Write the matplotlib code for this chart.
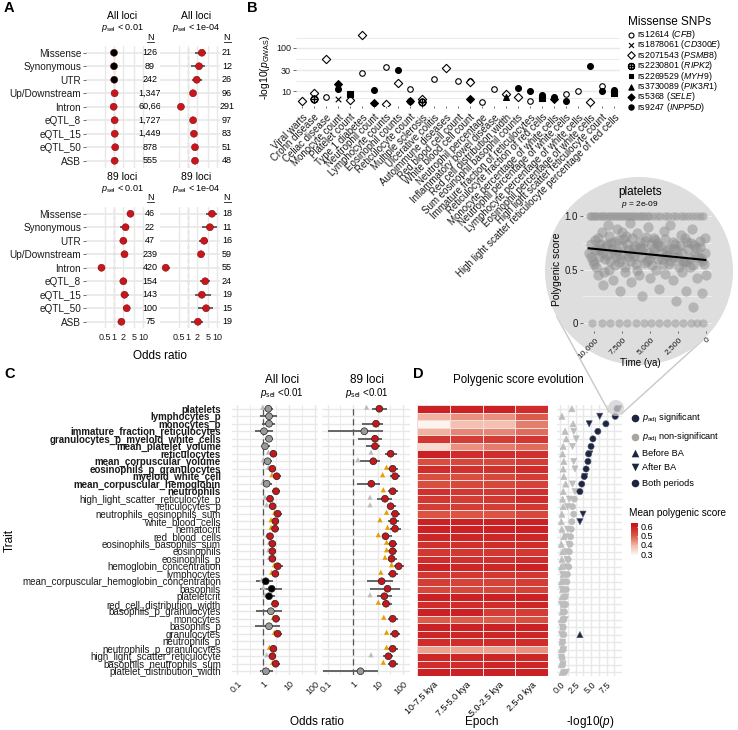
import numpy as np
import matplotlib
matplotlib.use('Agg')
import matplotlib.pyplot as plt
from matplotlib.colors import LinearSegmentedColormap
from matplotlib.patches import Circle
from matplotlib.ticker import NullLocator

plt.rcParams['font.family'] = ['Liberation Sans', 'DejaVu Sans']
plt.rcParams['mathtext.fontset'] = 'custom'
plt.rcParams['mathtext.rm'] = 'Liberation Sans'
plt.rcParams['mathtext.it'] = 'Liberation Sans:italic'
plt.rcParams['mathtext.bf'] = 'Liberation Sans:bold'

nan = np.nan

# ---------------- panel A data ----------------
a_categories = ['Missense', 'Synonymous', 'UTR', 'Up/Downstream', 'Intron',
                'eQTL_8', 'eQTL_15', 'eQTL_50', 'ASB']
a_ticks = [0.5, 1, 2, 5, 10]
a_tick_labels = ['0.5', '1', '2', '5', '10']

a_all01_or = [1.0, 1.0, 1.02, 1.05, 0.97, 1.05, 1.06, 1.1, 1.05]
a_all01_lo = [0.92, 0.9, 0.95, 1.0, 0.95, 1.0, 1.0, 1.02, 0.98]
a_all01_hi = [1.1, 1.12, 1.1, 1.1, 1.0, 1.1, 1.12, 1.2, 1.12]
a_all01_sig = [0, 0, 0, 1, 1, 1, 1, 1, 1]
a_all01_n = ['126', '89', '242', '1,347', '60,66', '1,727', '1,449', '878', '555']

a_all04_or = [3.0, 2.4, 2.0, 1.49, 0.57, 1.5, 1.6, 1.74, 1.74]
a_all04_lo = [1.75, 1.3, 1.4, 1.2, 0.52, 1.3, 1.35, 1.4, 1.4]
a_all04_hi = [4.3, 3.9, 3.0, 1.9, 0.62, 1.75, 1.85, 2.1, 2.1]
a_all04_sig = [1, 1, 1, 1, 1, 1, 1, 1, 1]
a_all04_n = ['21', '12', '26', '96', '291', '97', '83', '51', '48']

a_89_01_or = [3.7, 2.5, 2.1, 2.3, 0.37, 2.1, 2.3, 2.75, 1.8]
a_89_01_lo = [2.7, 1.55, 1.55, 1.8, 0.34, 1.7, 1.8, 2.1, 1.4]
a_89_01_hi = [4.7, 3.4, 2.9, 2.9, 0.41, 2.7, 3.2, 3.7, 2.3]
a_89_01_sig = [1, 1, 1, 1, 1, 1, 1, 1, 1]
a_89_01_n = ['46', '22', '47', '239', '420', '154', '143', '100', '75']

a_89_04_or = [6.7, 5.7, 3.6, 2.8, 0.17, 3.9, 3.0, 4.2, 2.2]
a_89_04_lo = [4.2, 3.0, 2.4, 2.2, 0.14, 2.6, 1.7, 2.2, 1.27]
a_89_04_hi = [10, 10, 4.9, 3.9, 0.24, 5.7, 6.2, 7.3, 3.3]
a_89_04_sig = [1, 1, 1, 1, 1, 1, 1, 1, 1]
a_89_04_n = ['18', '11', '16', '59', '55', '24', '19', '15', '19']

# ---------------- panel B data ----------------
b_traits = ['Viral warts', 'Crohn disease', 'Celiac disease', 'Monocyte count',
            'Platelet count', 'Type 1 diabetes', 'Neutrophil count',
            'Lymphocyte counts', 'Eosinophil counts', 'Reticulocyte count',
            'Multiple sclerosis', 'Ulcerative colitis', 'Autoimmune diseases',
            'Red blood cell count', 'White blood cell count', 'Neutrophil percentage',
            'Inflammatory bowel disease', 'Red cell distribution width',
            'Sum eosinophil basophil counts', 'Immature fraction of reticulocytes',
            'Reticulocyte fraction of red cells', 'Monocyte percentage of white cells',
            'Neutrophil percentage of white cells', 'Lymphocyte percentage of white cells',
            'Eosinophil percentage of white cells', 'High light scatter reticulocyte count',
            'High light scatter reticulocyte percentage of red cells']
b_snps = ['rs12614', 'rs1878061', 'rs2071543', 'rs2230801',
          'rs2269529', 'rs3730089', 'rs5368', 'rs9247']
b_genes = ['CFB', 'CD300E', 'PSMB8', 'RIPK2', 'MYH9', 'PIK3R1', 'SELE', 'INPP5D']
b_point_trait = [0, 1, 1, 2, 2, 3, 3, 3, 4, 4, 5, 5, 6, 6, 7, 7, 8, 8, 9, 9, 9,
                 10, 10, 11, 12, 13, 14, 14, 14, 15, 16, 17, 17, 18, 18, 19, 19,
                 20, 20, 21, 21, 22, 22, 23, 24, 24, 25, 25, 26, 26]
b_point_snp = ['PSMB8', 'PSMB8', 'RIPK2', 'PSMB8', 'CFB', 'SELE', 'INPP5D', 'CD300E',
               'MYH9', 'PSMB8', 'PSMB8', 'CFB', 'INPP5D', 'SELE', 'CFB', 'PSMB8',
               'INPP5D', 'PSMB8', 'CFB', 'INPP5D', 'SELE', 'PSMB8', 'RIPK2', 'CFB',
               'PSMB8', 'CFB', 'CFB', 'PSMB8', 'SELE', 'CFB', 'CFB', 'PSMB8', 'PIK3R1',
               'INPP5D', 'PSMB8', 'INPP5D', 'CFB', 'INPP5D', 'MYH9', 'INPP5D', 'SELE',
               'CFB', 'INPP5D', 'CFB', 'INPP5D', 'PSMB8', 'CFB', 'INPP5D', 'INPP5D', 'MYH9']
b_point_value = [5.8, 9.0, 6.5, 55, 7.3, 14.5, 11, 6.5, 8.5, 6.3, 200, 26, 10.5, 5.3,
                 36, 5.0, 31, 15, 11, 5.8, 5.8, 6.5, 5.5, 19, 34, 17, 17, 16.5, 6.7,
                 5.7, 11, 8.5, 7.2, 11.8, 7.3, 10, 5.8, 8, 7, 7.2, 6.5, 8.5, 5.8, 10,
                 38, 5.5, 13, 10, 10.5, 9]

# ---------------- panel C data ----------------
c_traits = ['platelets', 'lymphocytes_p', 'monocytes_p', 'immature_fraction_reticulocytes',
            'granulocytes_p_myeloid_white_cells', 'mean_platelet_volume', 'reticulocytes',
            'mean_corpuscular_volume', 'eosinophils_p_granulocytes', 'myeloid_white_cell',
            'mean_corpuscular_hemoglobin', 'neutrophils', 'high_light_scatter_reticulocyte_p',
            'reticulocytes_p', 'neutrophils_eosinophils_sum', 'white_blood_cells',
            'hematocrit', 'red_blood_cells', 'eosinophils_basophils_sum', 'eosinophils',
            'eosinophils_p', 'hemoglobin_concentration', 'lymphocytes',
            'mean_corpuscular_hemoglobin_concentration', 'basophils', 'plateletcrit',
            'red_cell_distribution_width', 'basophils_p_granulocytes', 'monocytes',
            'basophils_p', 'granulocytes', 'neutrophils_p', 'neutrophils_p_granulocytes',
            'high_light_scatter_reticulocyte', 'basophils_neutrophils_sum',
            'platelet_distribution_width']
c_bold = [1] * 12 + [0] * 24
c_ticks = [0.1, 1, 10, 100]
c_tick_labels = ['0.1', '1', '10', '100']

c_all_or = [1.60, 1.70, 1.70, 1.09, 1.70, 1.19, 2.50, 1.50, 2.28, 3.36, 1.38, 3.16,
            1.86, 2.35, 3.66, 2.98, 2.90, 1.86, 2.28, 2.28, 2.28, 3.66, 2.98, 1.27,
            2.15, 1.70, 2.90, 2.00, 3.16, 1.70, 3.66, nan, 2.50, 2.28, 3.07, 1.30]
c_all_lo = [0.97, 0.77, 0.89, 0.49, 1.19, 0.97, 1.75, 1.09, 1.60, 2.35, 0.97, 2.15,
            1.38, 1.75, 2.50, 2.15, 2.15, 1.38, 1.75, 1.75, 1.75, 2.50, 2.15, 0.54,
            0.77, 1.19, 2.15, 0.54, 2.35, 0.49, 2.50, nan, 1.86, 1.75, 2.15, 0.77]
c_all_hi = [2.50, 3.36, 2.90, 2.50, 2.50, 1.86, 3.56, 2.15, 3.16, 4.78, 2.15, 4.50,
            2.50, 3.16, 5.23, 4.25, 4.12, 2.50, 3.16, 3.16, 3.16, 5.70, 4.25, 2.50,
            5.23, 2.90, 4.25, 5.23, 4.50, 4.50, 5.23, nan, 3.56, 3.16, 4.50, 2.35]
c_all_col = ['g', 'g', 'g', 'g', 'g', 'g', 'r', 'g', 'r', 'r', 'g', 'r',
             'r', 'r', 'r', 'r', 'r', 'r', 'r', 'r', 'r', 'r', 'r', 'k',
             'k', 'k', 'r', 'g', 'r', 'g', 'r', 'r', 'r', 'r', 'r', 'g']
c_all_tri = [0.97, nan, 1.75, nan, nan, nan, 1.60, 1.03, 1.60, 2.20, 0.97, 2.73,
             1.19, 1.38, 2.81, 2.03, 2.03, 1.47, 1.75, 1.65, 1.75, 2.73, 2.15, 0.89,
             1.03, 1.19, 2.50, nan, 2.50, nan, 2.73, nan, 1.75, 1.38, 2.35, 1.03]
c_all_tri_col = ['g', 'g', 'o', 'g', 'g', 'g', 'g', 'g', 'g', 'o', 'g', 'o',
                 'g', 'g', 'o', 'o', 'o', 'g', 'g', 'g', 'g', 'o', 'o', 'g',
                 'g', 'g', 'o', 'g', 'o', 'g', 'o', 'g', 'o', 'g', 'o', 'g']

c_89_or = [11.3, nan, 8.3, 2.84, 7.6, 7.6, 32, 6.5, 38.6, 48, 5.4, 38.6, 19, 32, 48,
           41, 48, 20, 38.6, 38.6, 35, 67, 38.6, 14, 24, 18, 21, nan, 38.6, nan, 48,
           nan, 38.6, 26, 38.6, 2.0]
c_89_lo = [5.6, nan, 2.2, 0.10, 1.63, 3.3, 19, 1.9, 26, 30, 1.4, 26, 8.8, 22, 32,
           26, 30, 14, 26, 26, 24, 44, 26, 3.5, 4.8, 8.8, 14, nan, 26, nan, 30,
           nan, 26, 16, 24, 0.065]
c_89_hi = [22, nan, 16.3, 16.3, 14, 12, 56, 12, 65, 76, 12, 65, 35, 52, 76,
           71, 81, 35, 59, 59, 56, 110, 65, 41, 76, 35, 35, nan, 65, nan, 76,
           nan, 65, 41, 65, 10.3]
c_89_col = ['r', 'r', 'r', 'g', 'r', 'r', 'r', 'r', 'r', 'r', 'r', 'r',
            'r', 'r', 'r', 'r', 'r', 'r', 'r', 'r', 'r', 'r', 'r', 'r',
            'r', 'r', 'r', 'r', 'r', 'r', 'r', 'r', 'r', 'r', 'r', 'g']
c_89_tri = [3.5, nan, 7.6, nan, 7.6, 8.3, 5.25, 1.58, 22, 15.3, nan, 16.3, 4.8, 4.8, 22,
            12, 24, 10.3, 22, 22, 19, 35, 13, nan, nan, 4.8, 10.3, nan, 17, nan, 22,
            nan, 22, 5.25, 16.3, nan]
c_89_tri_col = ['g', 'g', 'o', 'g', 'o', 'o', 'g', 'g', 'o', 'o', 'g', 'o',
                'g', 'g', 'o', 'o', 'o', 'o', 'o', 'o', 'o', 'o', 'o', 'g',
                'g', 'g', 'o', 'g', 'o', 'g', 'o', 'g', 'o', 'g', 'o', 'g']

# ---------------- panel D data ----------------
d_epochs = ['10-7.5 kya', '7.5-5.0 kya', '5.0-2.5 kya', '2.5-0 kya']
d_heat = [
    [0.60, 0.60, 0.60, 0.58], [0.40, 0.44, 0.44, 0.50], [0.30, 0.38, 0.38, 0.46],
    [0.40, 0.45, 0.45, 0.48], [0.56, 0.55, 0.55, 0.56], [0.34, 0.44, 0.46, 0.48],
    [0.60, 0.58, 0.58, 0.57], [0.52, 0.53, 0.53, 0.55], [0.58, 0.57, 0.57, 0.58],
    [0.52, 0.52, 0.53, 0.55], [0.52, 0.53, 0.53, 0.54], [0.57, 0.56, 0.56, 0.57],
    [0.56, 0.55, 0.56, 0.58], [0.55, 0.55, 0.55, 0.56], [0.51, 0.51, 0.51, 0.53],
    [0.60, 0.60, 0.60, 0.60], [0.60, 0.60, 0.60, 0.60], [0.59, 0.59, 0.59, 0.59],
    [0.57, 0.57, 0.58, 0.58], [0.56, 0.56, 0.56, 0.56], [0.58, 0.57, 0.57, 0.58],
    [0.60, 0.59, 0.59, 0.60], [0.56, 0.56, 0.56, 0.56], [0.55, 0.54, 0.54, 0.55],
    [0.53, 0.53, 0.53, 0.54], [0.60, 0.60, 0.60, 0.60], [0.58, 0.58, 0.58, 0.59],
    [0.60, 0.60, 0.55, 0.55], [0.50, 0.50, 0.50, 0.52], [0.60, 0.60, 0.60, 0.60],
    [0.59, 0.59, 0.59, 0.59], [0.58, 0.58, 0.58, 0.58], [0.42, 0.42, 0.42, 0.44],
    [0.59, 0.59, 0.59, 0.59], [0.58, 0.58, 0.59, 0.59], [0.60, 0.60, 0.60, 0.60]]
d_before = [1.9, 0.3, 2.1, 0.8, 1.0, 0.5, 0.4, 0.6, 0.5, 0.6, 0.9, 0.5, 0.4, 0.5, 0.3,
            0.2, 0.3, 0.6, 0.2, 0.4, 0.3, 0.2, 0.5, 0.2, 0.4, 0.3, 0.6, 0.3, 0.2, 0.4,
            3.2, 0.3, 0.2, 0.4, 0.2, 0.3]
d_after = [9.5, 6.4, 4.7, 2.2, 2.6, 2.0, 4.8, 2.2, 2.4, 4.0, 2.0, 2.4, 1.5, 1.2, 3.7,
           3.2, 1.2, 0.9, 1.4, 1.0, 1.1, 0.8, 0.4, 0.6, 0.3, 0.9, 0.2, 0.5, 0.8, 0.3,
           0.2, 0.4, 0.6, 0.2, 0.5, 1.0]
d_both = [9.2, 8.9, 7.4, 6.1, 5.3, 5.0, 4.6, 4.5, 4.2, 3.9, 3.5, 3.2, 2.3, 2.0, 2.2,
          1.9, 1.8, 1.7, 1.6, 1.5, 1.3, 1.4, 1.2, 1.1, 1.0, 0.8, 0.9, 0.7, 0.6, 0.5,
          0.6, 0.4, 0.5, 0.3, 0.4, 0.6]
d_sig_cut = 3.0

# inset: platelets polygenic score over time (ya)
ins_top_time = [10400, 10300, 10100, 9950, 9800, 9600, 9400, 9250, 9100, 8850, 8700,
                8500, 8300, 8150, 8000, 7750, 7600, 7450, 7300, 7100, 6900, 6700, 6500,
                6350, 6200, 5950, 5800, 5650, 5500, 5250, 5100, 4800, 4400, 4100, 3700,
                3400, 3000, 2700, 2300, 2000, 1600, 1300, 900, 600, 300]
ins_bottom_time = [10200, 9300, 8600, 7800, 7100, 6300, 5600, 4900, 4200, 3500, 2800,
                   2100, 1400, 800, 300]
ins_cloud_time = [10300, 10000, 9900, 9700, 9500, 9300, 9200, 9000, 8800, 8700, 8500, 8300,
                  8200, 8000, 7800, 7700, 7500, 7300, 7200, 7000, 6800, 6700, 6500, 6300,
                  6200, 6000, 5800, 5700, 5500, 5300, 5200, 5000, 4800, 4700, 4500, 4300,
                  4200, 4000, 3800, 3700, 3500, 3300, 3200, 3000, 2800, 2700, 2500, 2300,
                  2200, 2000, 1800, 1700, 1500, 1300, 1200, 1000, 800, 600, 400, 200, 100,
                  9600, 8900, 8100, 7400, 6600, 5900, 5100, 4400, 3600, 2900, 2100, 1100, 500,
                  10450, 10250, 10150, 9950, 9850, 9650, 9550, 9450, 9250, 9150, 8950, 8850,
                  8650, 8550, 8450, 8250, 8150, 7950, 7850, 7650, 7550, 7350, 7250, 7050,
                  6950, 6750, 6650, 6450, 6350, 6150, 5950, 5850, 5650, 5450, 5350, 5150,
                  4950, 4850, 4650, 4550, 4350, 4150, 3950, 3850, 3650, 3450, 3350, 3150,
                  2950, 2850, 2650, 2450, 2350, 2150, 1950, 1850, 1650, 1450, 1350, 1150,
                  950, 750, 550, 350, 150, 50]
ins_cloud_score = [0.62, 0.55, 0.78, 0.45, 0.70, 0.85, 0.35, 0.60, 0.92, 0.50, 0.75, 0.40,
                   0.66, 0.88, 0.57, 0.30, 0.72, 0.48, 0.82, 0.62, 0.94, 0.38, 0.70, 0.55,
                   0.84, 0.45, 0.68, 0.25, 0.77, 0.58, 0.90, 0.42, 0.65, 0.80, 0.50, 0.72,
                   0.32, 0.60, 0.86, 0.46, 0.68, 0.55, 0.92, 0.40, 0.74, 0.20, 0.62, 0.83,
                   0.48, 0.58, 0.30, 0.76, 0.52, 0.88, 0.15, 0.64, 0.42, 0.71, 0.28, 0.55, 0.80,
                   0.68, 0.74, 0.63, 0.79, 0.66, 0.71, 0.60, 0.75, 0.64, 0.69, 0.57, 0.73, 0.61,
                   0.66, 0.74, 0.58, 0.68, 0.52, 0.80, 0.62, 0.74, 0.66, 0.48, 0.72, 0.64,
                   0.82, 0.58, 0.69, 0.76, 0.54, 0.67, 0.78, 0.60, 0.85, 0.65, 0.52, 0.74,
                   0.68, 0.58, 0.80, 0.63, 0.72, 0.50, 0.76, 0.62, 0.70, 0.56, 0.81, 0.66,
                   0.74, 0.54, 0.69, 0.78, 0.60, 0.72, 0.66, 0.55, 0.79, 0.63, 0.70, 0.58,
                   0.76, 0.62, 0.68, 0.52, 0.73, 0.66, 0.80, 0.57, 0.69, 0.61, 0.75, 0.54,
                   0.70, 0.62, 0.77, 0.58, 0.66, 0.45]
ins_trend_time = [10500, 100]
ins_trend_score = [0.70, 0.59]

# ---------------- styling ----------------
W, H = 738, 730
RED = '#C8161D'
GRID = '#E8E8E8'
TXT = '#1a1a1a'
ORANGE = '#E69F00'
LGRAY = '#BDBDBD'
NAVY = '#1D2540'

fig = plt.figure(figsize=(W / 100, H / 100), dpi=100)


def px_axes(x0, y0, x1, y1, **kw):
    return fig.add_axes([x0 / W, 1 - y1 / H, (x1 - x0) / W, (y1 - y0) / H], **kw)


def minimal(ax):
    for s in ax.spines.values():
        s.set_visible(False)
    ax.tick_params(length=2, width=0.6, color='#555555', labelsize=6.5, pad=1.5,
                   labelcolor=TXT)
    ax.set_facecolor('none')


ov = px_axes(0, 0, W, H, zorder=3)
ov.set_xlim(0, W)
ov.set_ylim(H, 0)
ov.axis('off')


# ---------------- panel A ----------------
def panel_a(x0, y0, vals, lo, hi, sig, n, n_x, ylabels, xlabels):
    ax = px_axes(x0, y0, x0 + 60, y0 + 121.5)
    minimal(ax)
    rows = np.arange(len(a_categories))
    ax.set_xscale('log')
    ax.set_xlim(0.108, 12.7)
    ax.set_ylim(len(rows) - 0.5, -0.5)
    ax.xaxis.set_minor_locator(NullLocator())
    ax.set_xticks(a_ticks)
    ax.set_xticklabels(a_tick_labels if xlabels else [])
    ax.grid(axis='x', color=GRID, lw=1.0)
    for r in rows:
        ax.axhline(r, color=GRID, lw=1.2, zorder=0)
    ax.axvline(1, color='black', lw=0.8, ls=(0, (4, 2.5)), zorder=1)
    ax.hlines(rows, lo, hi, color='#4d4d4d', lw=1.2, zorder=2)
    ax.scatter(vals, rows, s=26, c=[RED if s else 'black' for s in sig], zorder=3,
               edgecolors='#6b0000', linewidths=0.3)
    ax.set_yticks(rows)
    ax.set_yticklabels(a_categories if ylabels else [], fontsize=7.2)
    if not ylabels:
        ax.tick_params(axis='y', length=0)
    ax.tick_params(axis='x', length=0, labelsize=6.5, pad=3)
    for r, t in zip(rows, n):
        ax.text(n_x, r, t, transform=ax.get_yaxis_transform(), ha='center',
                va='center', fontsize=6.5, clip_on=False)
    return ax


panel_a(86, 46, a_all01_or, a_all01_lo, a_all01_hi, a_all01_sig, a_all01_n, 1.067, True, False)
panel_a(160, 46, a_all04_or, a_all04_lo, a_all04_hi, a_all04_sig, a_all04_n, 1.117, False, False)
panel_a(86, 207, a_89_01_or, a_89_01_lo, a_89_01_hi, a_89_01_sig, a_89_01_n, 1.067, True, True)
panel_a(160, 207, a_89_04_or, a_89_04_lo, a_89_04_hi, a_89_04_sig, a_89_04_n, 1.117, False, True)

for cx, cy, t1, t2 in [(122, 16, 'All loci', r'$p_{\mathrm{sel}}$ < 0.01'),
                       (196, 16, 'All loci', r'$p_{\mathrm{sel}}$ < 1e-04'),
                       (122, 177, '89 loci', r'$p_{\mathrm{sel}}$ < 0.01'),
                       (196, 177, '89 loci', r'$p_{\mathrm{sel}}$ < 1e-04')]:
    ov.text(cx, cy, t1, ha='center', va='center', fontsize=7.5)
    ov.text(cx, cy + 12, t2, ha='center', va='center', fontsize=6.5)
for nx, ny in [(150, 37), (227, 37), (150, 197), (227, 197)]:
    ov.text(nx, ny, 'N', ha='center', va='center', fontsize=6.5)
    ov.plot([nx - 3.5, nx + 3.5], [ny + 5, ny + 5], color=TXT, lw=0.6)
ov.text(160, 356, 'Odds ratio', ha='center', va='center', fontsize=8.5)

# ---------------- panel B ----------------
snp_style = {'CFB': dict(marker='o', facecolors='white', edgecolors='black', s=16),
             'CD300E': dict(marker='x', c='black', s=16),
             'PSMB8': dict(marker='D', facecolors='white', edgecolors='black', s=18),
             'RIPK2': dict(marker=r'$\oplus$', c='black', s=26),
             'MYH9': dict(marker='s', c='black', s=14),
             'PIK3R1': dict(marker='^', c='black', s=18),
             'SELE': dict(marker='D', c='black', s=16),
             'INPP5D': dict(marker='o', c='black', s=18)}

axb = px_axes(296, 28, 620, 106)
minimal(axb)
axb.set_yscale('log')
axb.set_ylim(4.5, 290)
axb.set_xlim(-0.5, len(b_traits) - 0.5)
axb.yaxis.set_minor_locator(NullLocator())
axb.set_yticks([10, 30, 100])
axb.set_yticklabels(['10', '30', '100'])
for g in [7.0, 10, 17.3, 30, 54.8, 100, 173]:
    axb.axhline(g, color=GRID, lw=1.0 if g in (10, 30, 100) else 0.6, zorder=0)
for gene in b_genes:
    xs = [t for t, s in zip(b_point_trait, b_point_snp) if s == gene]
    ys = [v for v, s in zip(b_point_value, b_point_snp) if s == gene]
    axb.scatter(xs, ys, linewidths=0.8, zorder=3, **snp_style[gene])
axb.set_xticks(range(len(b_traits)))
axb.set_xticklabels(b_traits, rotation=45, ha='right', rotation_mode='anchor', fontsize=7)
axb.tick_params(axis='x', length=1.5, pad=3)
axb.set_ylabel(r'-log10($p_{\mathrm{GWAS}}$)', fontsize=7.5, labelpad=3)

ov.text(628, 22, 'Missense SNPs', fontsize=8.5, va='center')
for i, (snp, gene) in enumerate(zip(b_snps, b_genes)):
    yy = 34.5 + 10.4 * i
    st = dict(snp_style[gene])
    st['s'] = st['s'] * 0.8
    ov.scatter([631], [yy], linewidths=0.8, **st)
    ov.text(637, yy, snp + r' ($\mathit{' + gene + '}$)', fontsize=6.3, va='center')

# ---------------- panel C ----------------
rows_c = np.arange(len(c_traits))


def panel_c(x0, x1, vals, lo, hi, col, tri, tri_col, ylabels):
    ax = px_axes(x0, 405, x1, 675)
    minimal(ax)
    ax.set_xscale('log')
    ax.set_xlim(0.064 if ylabels else 0.058, 130 if ylabels else 190)
    ax.set_ylim(len(c_traits) - 0.5, -0.5)
    ax.xaxis.set_minor_locator(NullLocator())
    ax.set_xticks(c_ticks)
    ax.set_xticklabels(c_tick_labels, rotation=45, ha='right', rotation_mode='anchor')
    ax.tick_params(axis='x', length=0, pad=3)
    for g in [0.1, 0.316, 1, 3.16, 10, 31.6, 100]:
        ax.axvline(g, color=GRID, lw=1.0 if g in c_ticks else 0.6, zorder=0)
    for r in rows_c:
        ax.axhline(r, color=GRID, lw=1.0, zorder=0)
    ax.axvline(1, color='#555555', lw=0.9, ls=(0, (5, 3)), zorder=1)
    ax.hlines(rows_c, lo, hi, color='#5a5a5a', lw=1.3, zorder=2)
    tc = [ORANGE if c == 'o' else LGRAY for c in tri_col]
    ax.scatter(tri, rows_c - 0.2, marker='^', s=14, c=tc, lw=0, zorder=3)
    fc = {'r': RED, 'k': 'black', 'g': '#9a9a9a'}
    ax.scatter(vals, rows_c, s=24, c=[fc[c] for c in col], edgecolors='#222222',
               linewidths=0.5, zorder=4)
    ax.set_yticks(rows_c)
    if ylabels:
        ax.set_yticklabels(c_traits, fontsize=7)
        for lbl, b in zip(ax.get_yticklabels(), c_bold):
            if b:
                lbl.set_fontweight('bold')
        ax.tick_params(axis='y', length=0, pad=8)
    else:
        ax.set_yticklabels([])
        ax.tick_params(axis='y', length=0)
    return ax


panel_c(232, 318, c_all_or, c_all_lo, c_all_hi, c_all_col, c_all_tri, c_all_tri_col, True)
panel_c(322, 410, c_89_or, c_89_lo, c_89_hi, c_89_col, c_89_tri, c_89_tri_col, False)
ov.text(282, 380, 'All loci', ha='center', va='center', fontsize=8.5)
ov.text(282, 393, r'$p_{\mathrm{sel}}$ <0.01', ha='center', va='center', fontsize=7)
ov.text(367, 380, '89 loci', ha='center', va='center', fontsize=8.5)
ov.text(367, 393, r'$p_{\mathrm{sel}}$ <0.01', ha='center', va='center', fontsize=7)
ov.text(317, 722, 'Odds ratio', ha='center', va='center', fontsize=8.5)
ov.text(10, 540, 'Trait', ha='center', va='center', fontsize=8.5, rotation=90)

# ---------------- panel D ----------------
cmap = LinearSegmentedColormap.from_list('pgs', ['#FFFFFF', '#F2B9A6', '#DB5544', '#C8161D'])
VMIN, VMAX = 0.28, 0.62

axh = px_axes(417, 405, 548, 676)
heat = np.array(d_heat)
axh.pcolormesh(np.arange(heat.shape[1] + 1), np.arange(heat.shape[0] + 1), heat,
               cmap=cmap, vmin=VMIN, vmax=VMAX, edgecolors='#F2DCDC', linewidth=0.4)
axh.set_ylim(heat.shape[0], 0)
axh.set_xlim(0, heat.shape[1])
for s in axh.spines.values():
    s.set_visible(False)
axh.set_yticks([])
axh.set_xticks(np.arange(heat.shape[1]) + 0.5)
axh.set_xticklabels(d_epochs, rotation=45, ha='right', rotation_mode='anchor', fontsize=6.5)
axh.tick_params(axis='x', length=0, pad=3)
ov.text(482, 722, 'Epoch', ha='center', va='center', fontsize=8.5)

axd = px_axes(557, 405, 622, 676)
minimal(axd)
axd.set_xlim(-0.5, 10)
axd.set_ylim(len(c_traits) - 0.5, -0.5)
for g in np.arange(0, 10, 1.25):
    axd.axvline(g, color=GRID, lw=1.0, zorder=0)
for r in rows_c:
    axd.axhline(r, color=GRID, lw=1.0, zorder=0)
for vals, mk in [(d_before, '^'), (d_after, 'v'), (d_both, 'o')]:
    v = np.array(vals)
    cols = [NAVY if x >= d_sig_cut else LGRAY for x in v]
    eds = ['#555a70' if x >= d_sig_cut else LGRAY for x in v]
    axd.scatter(v, rows_c, marker=mk, s=20, c=cols, edgecolors=eds, linewidths=0.4, zorder=3)
axd.set_yticks([])
axd.set_xticks([0, 2.5, 5, 7.5])
axd.set_xticklabels(['0.0', '2.5', '5.0', '7.5'], rotation=45, ha='right',
                    rotation_mode='anchor')
axd.tick_params(axis='x', length=0, pad=3)
ov.text(590, 722, r'-log10($p$)', ha='center', va='center', fontsize=8.5)
ov.text(518, 380, 'Polygenic score evolution', ha='center', va='center', fontsize=8.3)

# legend D
leg = [('o', NAVY, r'$p_{\mathrm{adj}}$ significant', 418),
       ('o', '#A9A59E', r'$p_{\mathrm{adj}}$ non-significant', 437),
       ('^', NAVY, 'Before BA', 453),
       ('v', NAVY, 'After BA', 467),
       ('o', NAVY, 'Both periods', 483)]
for mk, c, t, yy in leg:
    ov.scatter([635], [yy], marker=mk, s=30, c=c, lw=0)
    ov.text(642, yy, t, va='center', fontsize=6.6)
ov.text(629, 513, 'Mean polygenic score', va='center', fontsize=7.2)
cax = px_axes(631, 523, 637, 556, zorder=4)
cax.imshow(np.linspace(0.64, 0.28, 100).reshape(-1, 1), aspect='auto', cmap=cmap,
           vmin=VMIN, vmax=VMAX, extent=[0, 1, 0.28, 0.64])
for s in cax.spines.values():
    s.set_visible(False)
cax.set_xticks([])
cax.yaxis.tick_right()
cax.set_yticks([0.3, 0.4, 0.5, 0.6])
cax.set_yticklabels(['0.3', '0.4', '0.5', '0.6'], fontsize=6.5)
cax.tick_params(axis='y', length=1.5, color='white', pad=1)

# ---------------- zoom circle + inset ----------------
c1 = np.array([639.0, 271.0])
r1 = 94.0
c2 = np.array([616.0, 408.0])
r2 = 8.0
dvec = c2 - c1
dist = np.hypot(*dvec)
theta = np.arctan2(dvec[1], dvec[0])
alpha = np.arccos((r1 - r2) / dist)
for sgn in (1, -1):
    ang = theta + sgn * alpha
    u = np.array([np.cos(ang), np.sin(ang)])
    p1 = c1 + r1 * u
    p2 = c2 + r2 * u
    ov.plot([p1[0], p2[0]], [p1[1], p2[1]], color='#C8C8C8', lw=1.0, zorder=1)
ov.add_patch(Circle(c1, r1, fc='#DEDEDE', ec='none', zorder=2))
ov.add_patch(Circle(c2, r2, fc='#D0D0D0', ec='none', alpha=0.75, zorder=2))

axi = px_axes(583, 208, 712, 331, zorder=4)
minimal(axi)
axi.set_xlim(11000, -500)
axi.set_ylim(-0.08, 1.08)
for g in [0, 0.25, 0.5, 0.75, 1.0]:
    axi.axhline(g, color='#EEEEEE', lw=0.8, zorder=0)
axi.scatter(ins_top_time, [1.0] * len(ins_top_time), s=36, c='#9A9A9A', alpha=0.55,
            lw=0, zorder=2)
axi.scatter(ins_bottom_time, [0.0] * len(ins_bottom_time), s=36, c='#9A9A9A', alpha=0.55,
            lw=0, zorder=2)
axi.scatter(ins_cloud_time, ins_cloud_score, s=55, c='#8E8E8E', alpha=0.5, lw=0, zorder=2)
axi.plot(ins_trend_time, ins_trend_score, color='black', lw=1.5, zorder=3)
axi.set_yticks([0, 0.5, 1.0])
axi.set_yticklabels(['0', '0.5', '1.0'], fontsize=7)
axi.set_xticks([10000, 7500, 5000, 2500, 0])
axi.set_xticklabels(['10,000', '7,500', '5,000', '2,500', '0'], rotation=45, ha='right',
                    rotation_mode='anchor', fontsize=6)
axi.tick_params(axis='x', length=1.5, pad=2)
axi.set_ylabel('Polygenic score', fontsize=7.5, labelpad=2)
ov.text(640, 192, 'platelets', ha='center', va='center', fontsize=8.5, zorder=5)
ov.text(640, 204, r'$p$ = 2e-09', ha='center', va='center', fontsize=6, zorder=5)
ov.text(640, 363, 'Time (ya)', ha='center', va='center', fontsize=7, zorder=5)

# panel letters
for lx, ly, t in [(4, 8, 'A'), (247, 8, 'B'), (4, 374, 'C'), (413, 374, 'D')]:
    ov.text(lx, ly, t, fontsize=10.5, fontweight='bold', va='center')

fig.savefig('out.png', dpi=100)
